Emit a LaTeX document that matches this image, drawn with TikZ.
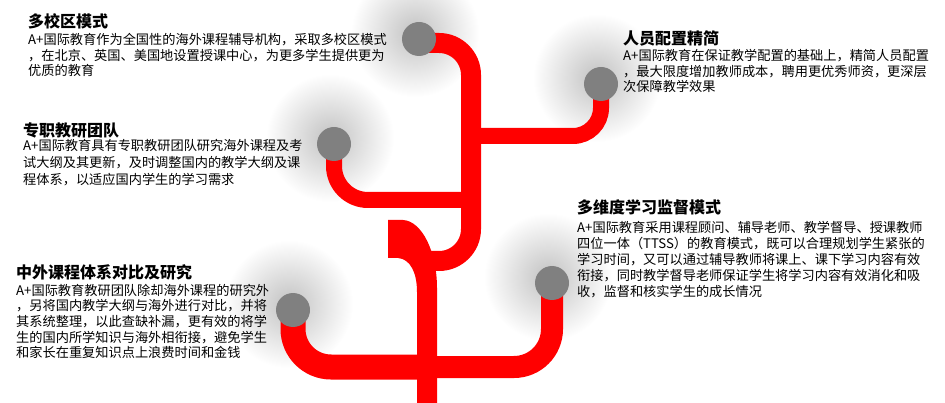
\documentclass[tikz,border=0pt]{standalone}
\usepackage{fontspec}
\newfontfamily\cjk{Noto Sans CJK SC}
\usepackage{xcolor}
\usepackage{tikz}
\usetikzlibrary{fadings}
\usetikzlibrary{positioning}

\definecolor{branchred}{RGB}{255,0,0}
\definecolor{dotgray}{RGB}{128,128,128}

\tikzfading[name=softglow, inner color=transparent!0, outer color=transparent!100]

\tikzset{
  dot/.style={circle, fill=dotgray, minimum size=34pt, inner sep=0pt},
  glow/.style={fill=black, fill opacity=0.24, path fading=softglow},
  branch/.style={draw=branchred, line width=16pt, rounded corners=30pt},
  head/.style={anchor=north west, inner sep=0pt, font=\cjk\bfseries\fontsize{16}{18}\selectfont},
  body/.style={anchor=north west, inner sep=0pt, align=left, font=\cjk\fontsize{13.2}{15.6}\selectfont},
}

\begin{document}
\begin{tikzpicture}[x=1pt, y=-1pt]
 \useasboundingbox (0,0) rectangle (945,403);

 %points of the circles
 \foreach \name/\x/\y in {c1/419/39, c2/601/84, c3/334/144, c4/552/283, c5/293/310} {
   \coordinate (\name) at (\x,\y);
   \fill[glow] ([xshift=-4pt, yshift=6pt]\name) circle (64);
 }
 \coordinate (m1) at (428,261);
 \coordinate (m2) at (471,136);
 \coordinate (m3) at (471,200);
 \coordinate (m4) at (427,367);

 %trunk
 \fill[branchred] (388,220) -- (403,220) .. controls (422,221) and (437,252) .. (437,288)
   -- (437,403) -- (417,403) -- (417,292) .. controls (417,272) and (410,259) .. (398,258)
   -- (388,258) -- cycle;

 %main arm
 \draw[branch, line width=20pt, rounded corners=32pt] ([yshift=-4pt]c1) -- (471,43) -- (471,261) -- (m1);

 %level 2
 \draw[branch, rounded corners=28pt] (c2) |- (m2);
 \draw[branch, rounded corners=34pt] (c3) |- (m3);

 %bottom
 \draw[branch, line width=25pt, rounded corners=38pt] (c5) |- (m4);
 \draw[branch, line width=22pt, rounded corners=38pt] (c4) |- (m4);

 \foreach \name in {c1,c2,c3,c4,c5} {
   \node[dot] (\name dot) at (\name) {};
 }

 %texts
 \node[head] (t1) at (28,13) {多校区模式};
 \node[body] (b1) at (28,33) {A+国际教育作为全国性的海外课程辅导机构，采取多校区模式\\，在北京、英国、美国地设置授课中心，为更多学生提供更为\\优质的教育};

 \node[head] (t2) at (23,122) {专职教研团队};
 \node[body, font=\cjk\fontsize{13.2}{17}\selectfont] (b2) at (23,139) {A+国际教育具有专职教研团队研究海外课程及考\\试大纲及其更新，及时调整国内的教学大纲及课\\程体系，以适应国内学生的学习需求};

 \node[head] (t3) at (623,30) {人员配置精简};
 \node[body] (b3) at (623,49) {A+国际教育在保证教学配置的基础上，精简人员配置\\，最大限度增加教师成本，聘用更优秀师资，更深层\\次保障教学效果};

 \node[head] (t4) at (577,199) {多维度学习监督模式};
 \node[body, font=\cjk\fontsize{13.2}{16}\selectfont] (b4) at (577,221) {A+国际教育采用课程顾问、辅导老师、教学督导、授课教师\\四位一体（TTSS）的教育模式，既可以合理规划学生紧张的\\学习时间，又可以通过辅导教师将课上、课下学习内容有效\\衔接，同时教学督导老师保证学生将学习内容有效消化和吸\\收，监督和核实学生的成长情况};

 \node[head] (t5) at (16,264) {中外课程体系对比及研究};
 \node[body] (b5) at (16,284) {A+国际教育教研团队除却海外课程的研究外\\，另将国内教学大纲与海外进行对比，并将\\其系统整理，以此查缺补漏，更有效的将学\\生的国内所学知识与海外相衔接，避免学生\\和家长在重复知识点上浪费时间和金钱};
\end{tikzpicture}
\end{document}
